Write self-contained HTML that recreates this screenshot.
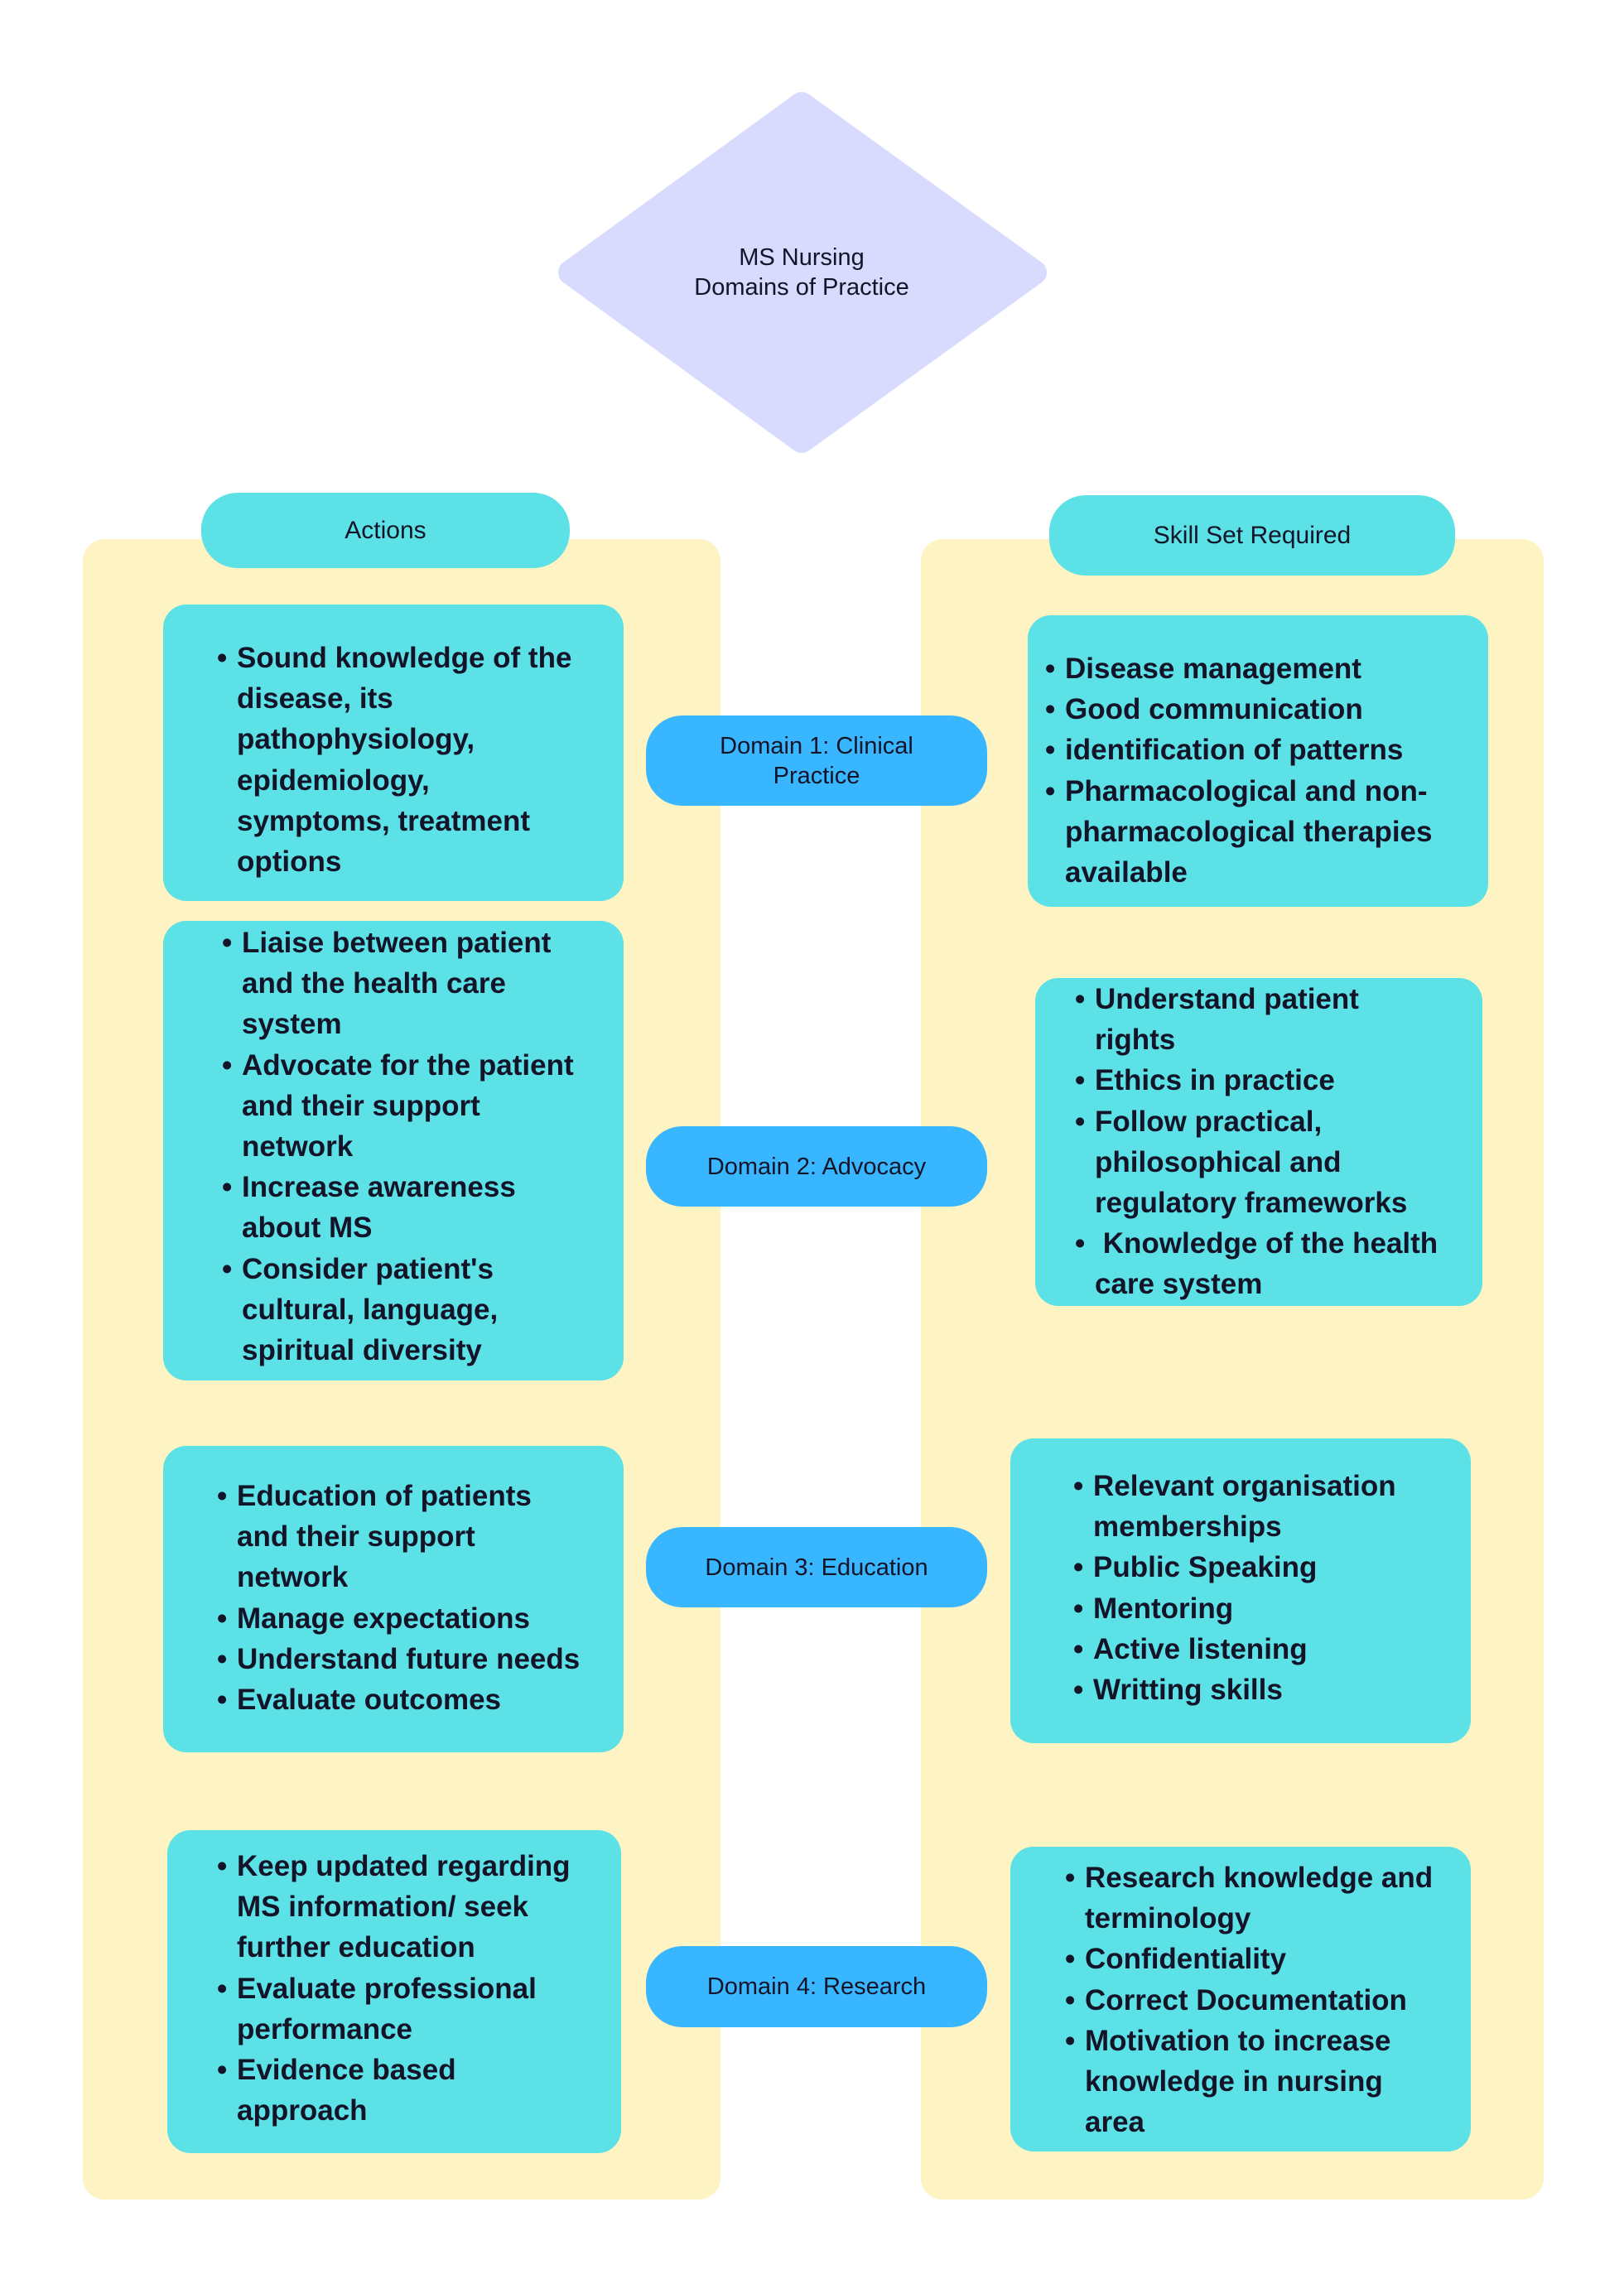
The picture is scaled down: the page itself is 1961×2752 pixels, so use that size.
<!DOCTYPE html>
<html><head><meta charset="utf-8"><style>
*{margin:0;padding:0;box-sizing:border-box}
body{width:1961px;height:2752px;background:#fff;position:relative;overflow:hidden;font-family:"Liberation Sans",sans-serif;color:#141428}
.a{position:absolute}
.y{background:#fef3c3;border-radius:26px}
.c{background:#5ce1e6;border-radius:28px}
.p{background:#38b6ff;border-radius:44px;display:flex;align-items:center;justify-content:center;text-align:center;font-size:29px;line-height:36px}
.h{background:#5ce1e6;border-radius:44px;display:flex;align-items:center;justify-content:center;font-size:30px}
.t{position:absolute;font-weight:bold;font-size:35px;line-height:49.2px;white-space:nowrap}
.l{position:relative;padding-left:24px}
.l b{position:absolute;left:0;top:0}
</style></head><body>
<svg class="a" style="left:0;top:0" width="1961" height="700">
<polygon points="968,126 1249,329 968,532 689,329" fill="#d9dbfe" stroke="#d9dbfe" stroke-width="30" stroke-linejoin="round"/>
<text x="968" y="320" text-anchor="middle" font-family="Liberation Sans" font-size="29" fill="#141428">MS Nursing</text>
<text x="968" y="356" text-anchor="middle" font-family="Liberation Sans" font-size="29" fill="#141428">Domains of Practice</text>
</svg>
<div class="a y" style="left:100px;top:651px;width:770px;height:2005px"></div>
<div class="a y" style="left:1112px;top:651px;width:752px;height:2005px"></div>
<div class="a h" style="left:243px;top:595px;width:445px;height:91px">Actions</div>
<div class="a h" style="left:1267px;top:598px;width:490px;height:97px">Skill Set Required</div>

<div class="a c" style="left:197px;top:730px;width:556px;height:358px"></div>
<div class="a c" style="left:197px;top:1112px;width:556px;height:555px"></div>
<div class="a c" style="left:197px;top:1746px;width:556px;height:370px"></div>
<div class="a c" style="left:202px;top:2210px;width:548px;height:390px"></div>
<div class="a c" style="left:1241px;top:743px;width:556px;height:352px"></div>
<div class="a c" style="left:1250px;top:1181px;width:540px;height:396px"></div>
<div class="a c" style="left:1220px;top:1737px;width:556px;height:368px"></div>
<div class="a c" style="left:1220px;top:2230px;width:556px;height:368px"></div>

<div class="a p" style="left:780px;top:864px;width:412px;height:109px">Domain 1: Clinical<br>Practice</div>
<div class="a p" style="left:780px;top:1360px;width:412px;height:97px">Domain 2: Advocacy</div>
<div class="a p" style="left:780px;top:1844px;width:412px;height:97px">Domain 3: Education</div>
<div class="a p" style="left:780px;top:2350px;width:412px;height:98px">Domain 4: Research</div>

<div class="t" style="left:262px;top:770px">
<div class="l"><b>•</b>Sound knowledge of the</div><div class="l">disease, its</div><div class="l">pathophysiology,</div><div class="l">epidemiology,</div><div class="l">symptoms, treatment</div><div class="l">options</div></div>

<div class="t" style="left:268px;top:1114px">
<div class="l"><b>•</b>Liaise between patient</div><div class="l">and the health care</div><div class="l">system</div><div class="l"><b>•</b>Advocate for the patient</div><div class="l">and their support</div><div class="l">network</div><div class="l"><b>•</b>Increase awareness</div><div class="l">about MS</div><div class="l"><b>•</b>Consider patient's</div><div class="l">cultural, language,</div><div class="l">spiritual diversity</div></div>

<div class="t" style="left:262px;top:1782px">
<div class="l"><b>•</b>Education of patients</div><div class="l">and their support</div><div class="l">network</div><div class="l"><b>•</b>Manage expectations</div><div class="l"><b>•</b>Understand future needs</div><div class="l"><b>•</b>Evaluate outcomes</div></div>

<div class="t" style="left:262px;top:2229px">
<div class="l"><b>•</b>Keep updated regarding</div><div class="l">MS information/ seek</div><div class="l">further education</div><div class="l"><b>•</b>Evaluate professional</div><div class="l">performance</div><div class="l"><b>•</b>Evidence based</div><div class="l">approach</div></div>

<div class="t" style="left:1262px;top:783px">
<div class="l"><b>•</b>Disease management</div><div class="l"><b>•</b>Good communication</div><div class="l"><b>•</b>identification of patterns</div><div class="l"><b>•</b>Pharmacological and non-</div><div class="l">pharmacological therapies</div><div class="l">available</div></div>

<div class="t" style="left:1298px;top:1182px">
<div class="l"><b>•</b>Understand patient</div><div class="l">rights</div><div class="l"><b>•</b>Ethics in practice</div><div class="l"><b>•</b>Follow practical,</div><div class="l">philosophical and</div><div class="l">regulatory frameworks</div><div class="l"><b>•</b>&nbsp;Knowledge of the health</div><div class="l">care system</div></div>

<div class="t" style="left:1296px;top:1770px">
<div class="l"><b>•</b>Relevant organisation</div><div class="l">memberships</div><div class="l"><b>•</b>Public Speaking</div><div class="l"><b>•</b>Mentoring</div><div class="l"><b>•</b>Active listening</div><div class="l"><b>•</b>Writting skills</div></div>

<div class="t" style="left:1286px;top:2243px">
<div class="l"><b>•</b>Research knowledge and</div><div class="l">terminology</div><div class="l"><b>•</b>Confidentiality</div><div class="l"><b>•</b>Correct Documentation</div><div class="l"><b>•</b>Motivation to increase</div><div class="l">knowledge in nursing</div><div class="l">area</div></div>
</body></html>
